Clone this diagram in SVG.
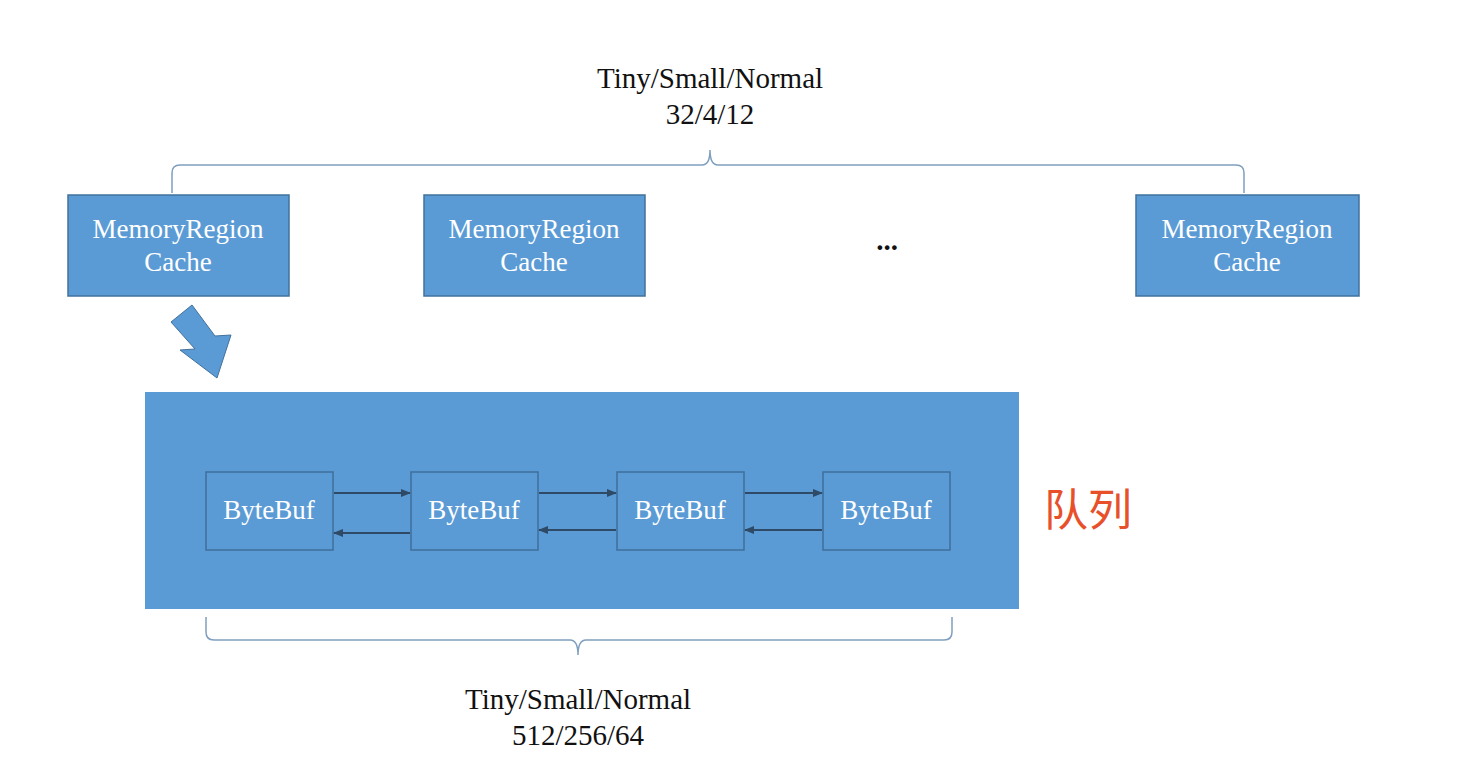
<svg xmlns="http://www.w3.org/2000/svg" width="1468" height="774" viewBox="0 0 1468 774">
<style>
.box{fill:#5b9bd5;stroke:#41719c;stroke-width:1.5}
.bb{fill:#5b9bd5;stroke:#3f6f9a;stroke-width:1.5}
.t{font-family:"Liberation Serif",serif;font-size:27px;fill:#fff;text-anchor:middle}
.k{font-family:"Liberation Serif",serif;font-size:29px;fill:#111;text-anchor:middle}
.br{fill:none;stroke:#7f9fbf;stroke-width:1.5}
.ar{stroke:#2f4a66;stroke-width:2;marker-end:url(#ah)}
</style>
<defs><marker id="ah" markerWidth="10" markerHeight="8" refX="9" refY="4" orient="auto" markerUnits="userSpaceOnUse" viewBox="0 0 10 8"><path d="M0,0L10,4L0,8z" fill="#2f4a66"/></marker></defs>
<rect width="1468" height="774" fill="#fff"/>
<g id="topLabel"><text class="k" x="710" y="88">Tiny/Small/Normal</text><text class="k" x="710" y="124">32/4/12</text></g>
<g id="bottomLabel"><text class="k" x="578" y="709">Tiny/Small/Normal</text><text class="k" x="578" y="745">512/256/64</text></g>
<g id="braces">
<path class="br" d="M172,193V173Q172,165 180,165H702Q710,165 710,150Q710,165 718,165H1236Q1244,165 1244,173V193"/>
<path class="br" d="M206,617V632Q206,640 214,640H570Q578,640 578,655Q578,640 586,640H944Q952,640 952,632V617"/>
</g>
<g id="mrc1"><rect class="box" x="68" y="195" width="221" height="101"/><text class="t" x="178" y="238">MemoryRegion</text><text class="t" x="178" y="271">Cache</text></g>
<g id="mrc2"><rect class="box" x="424" y="195" width="221" height="101"/><text class="t" x="534" y="238">MemoryRegion</text><text class="t" x="534" y="271">Cache</text></g>
<g id="dots"><text class="k" x="887" y="250" font-weight="bold">...</text></g>
<g id="mrc3"><rect class="box" x="1136" y="195" width="223" height="101"/><text class="t" x="1247" y="238">MemoryRegion</text><text class="t" x="1247" y="271">Cache</text></g>
<g id="blockArrow"><polygon points="171,322 192,305 215,336 231,335 217,378 180,350 195,349" fill="#5b9bd5" stroke="#41719c" stroke-width="1"/></g>
<g id="queue"><rect x="145" y="392" width="874" height="217" fill="#5b9bd5"/></g>
<g id="b1"><rect class="bb" x="206" y="472" width="127" height="78"/><text class="t" x="269" y="519">ByteBuf</text></g>
<g id="b2"><rect class="bb" x="411" y="472" width="127" height="78"/><text class="t" x="474" y="519">ByteBuf</text></g>
<g id="b3"><rect class="bb" x="617" y="472" width="127" height="78"/><text class="t" x="680" y="519">ByteBuf</text></g>
<g id="b4"><rect class="bb" x="823" y="472" width="127" height="78"/><text class="t" x="886" y="519">ByteBuf</text></g>
<g id="connectors">
<line class="ar" x1="334" y1="493" x2="410" y2="493"/>
<line class="ar" x1="410" y1="533" x2="334" y2="533"/>
<line class="ar" x1="539" y1="493" x2="616" y2="493"/>
<line class="ar" x1="616" y1="530" x2="539" y2="530"/>
<line class="ar" x1="745" y1="493" x2="822" y2="493"/>
<line class="ar" x1="822" y1="530" x2="745" y2="530"/>
</g>
<g id="queueLabel"><text x="1088" y="526" font-family="'Noto Sans CJK SC',sans-serif" font-size="44" fill="#e8502a" text-anchor="middle">队列</text></g>
</svg>
